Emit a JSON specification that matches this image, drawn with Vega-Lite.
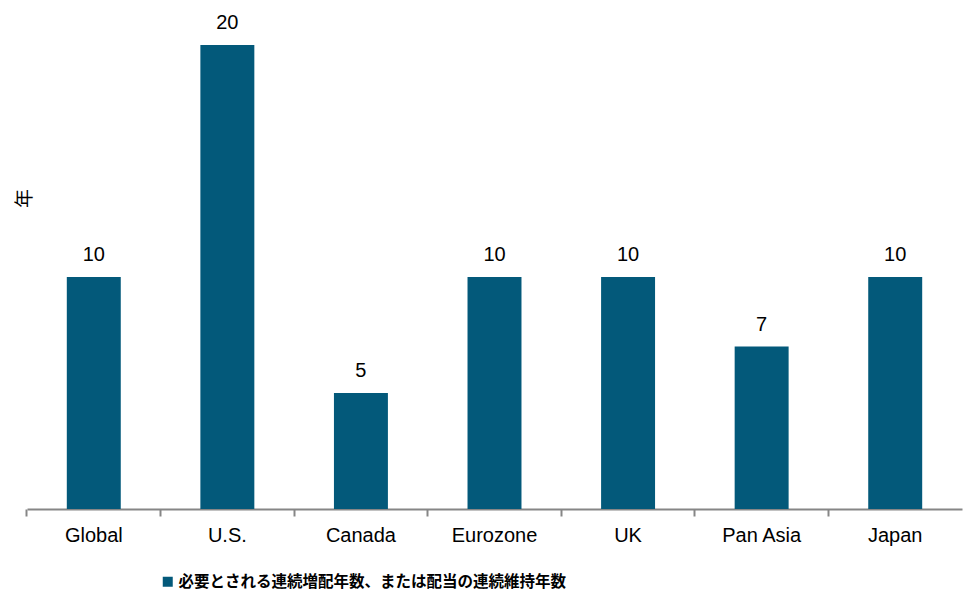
{
  "$schema": "https://vega.github.io/schema/vega-lite/v6.json",
  "width": 935,
  "height": 504,
  "autosize": {"type": "none"},
  "padding": {"left": 27, "top": 5, "right": 3, "bottom": 81},
  "config": {"view": {"stroke": null}, "font": "Liberation Sans"},
  "data": {"values": [
    {"region": "Global", "years": 10, "series": "必要とされる連続増配年数、または配当の連続維持年数"},
    {"region": "U.S.", "years": 20, "series": "必要とされる連続増配年数、または配当の連続維持年数"},
    {"region": "Canada", "years": 5, "series": "必要とされる連続増配年数、または配当の連続維持年数"},
    {"region": "Eurozone", "years": 10, "series": "必要とされる連続増配年数、または配当の連続維持年数"},
    {"region": "UK", "years": 10, "series": "必要とされる連続増配年数、または配当の連続維持年数"},
    {"region": "Pan Asia", "years": 7, "series": "必要とされる連続増配年数、または配当の連続維持年数"},
    {"region": "Japan", "years": 10, "series": "必要とされる連続増配年数、または配当の連続維持年数"}
  ]},
  "encoding": {
    "x": {
      "field": "region", "type": "nominal", "sort": null,
      "scale": {"paddingInner": 0, "paddingOuter": 0},
      "axis": {
        "title": null, "labelAngle": 0, "bandPosition": 0,
        "domainColor": "#868686", "domainWidth": 2,
        "tickColor": "#868686", "tickWidth": 2, "tickSize": 7,
        "labelFontSize": 20, "labelColor": "#000000", "labelPadding": 9,
        "labelFont": "Liberation Sans"
      }
    },
    "y": {
      "field": "years", "type": "quantitative",
      "scale": {"domain": [0, 21.72], "nice": false},
      "axis": {
        "title": "年", "labels": false, "ticks": false, "domain": false, "grid": false,
        "titleFont": "Noto Sans CJK JP", "titleFontSize": 19, "titleFontWeight": "normal",
        "titleColor": "#000000", "titleX": -3, "titleY": 193,
        "titleAngle": 270, "titleAlign": "center", "titleBaseline": "middle"
      }
    }
  },
  "layer": [
    {
      "mark": {"type": "bar", "width": {"band": 0.404}, "color": "#03597A"},
      "encoding": {
        "color": {
          "field": "series", "type": "nominal",
          "scale": {"range": ["#03597A"]},
          "legend": {
            "title": null, "orient": "none", "legendX": 133, "legendY": 569,
            "symbolType": "square", "symbolSize": 100, "symbolStrokeWidth": 0,
            "labelFont": "Noto Sans CJK JP", "labelFontSize": 15.5, "labelFontWeight": "bold",
            "labelColor": "#000000", "labelOffset": 3, "labelLimit": 0
          }
        }
      }
    },
    {
      "mark": {"type": "text", "baseline": "alphabetic", "dy": -16, "fontSize": 20, "color": "#000000", "font": "Liberation Sans"},
      "encoding": {"text": {"field": "years", "type": "quantitative"}}
    }
  ]
}
